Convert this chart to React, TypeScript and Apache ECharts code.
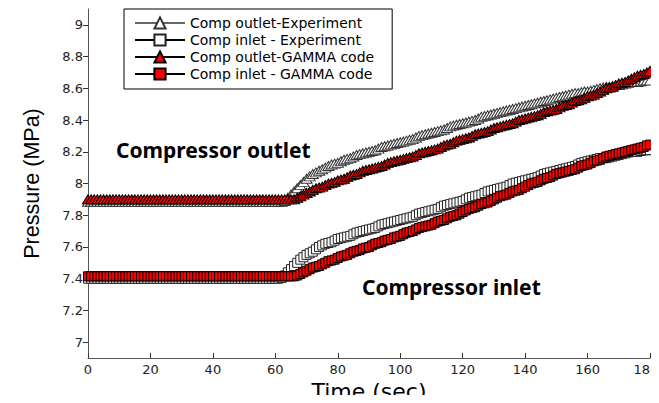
import React, { useEffect, useRef } from "react";
import * as echarts from "echarts";

// Time stamps (s), one sample per second
const timeSec = [
  0, 1, 2, 3, 4, 5, 6, 7, 8, 9, 10, 11, 12, 13, 14, 15, 16, 17, 18, 19,
  20, 21, 22, 23, 24, 25, 26, 27, 28, 29, 30, 31, 32, 33, 34, 35, 36, 37, 38, 39,
  40, 41, 42, 43, 44, 45, 46, 47, 48, 49, 50, 51, 52, 53, 54, 55, 56, 57, 58, 59,
  60, 61, 62, 63, 64, 65, 66, 67, 68, 69, 70, 71, 72, 73, 74, 75, 76, 77, 78, 79,
  80, 81, 82, 83, 84, 85, 86, 87, 88, 89, 90, 91, 92, 93, 94, 95, 96, 97, 98, 99,
  100, 101, 102, 103, 104, 105, 106, 107, 108, 109, 110, 111, 112, 113, 114, 115, 116, 117, 118, 119,
  120, 121, 122, 123, 124, 125, 126, 127, 128, 129, 130, 131, 132, 133, 134, 135, 136, 137, 138, 139,
  140, 141, 142, 143, 144, 145, 146, 147, 148, 149, 150, 151, 152, 153, 154, 155, 156, 157, 158, 159,
  160, 161, 162, 163, 164, 165, 166, 167, 168, 169, 170, 171, 172, 173, 174, 175, 176, 177, 178, 179,
  180,
];

// Compressor outlet pressure, experiment (MPa)
const outletExp = [
  7.885, 7.885, 7.885, 7.885, 7.885, 7.885, 7.885, 7.885, 7.885, 7.885,
  7.885, 7.885, 7.885, 7.885, 7.885, 7.885, 7.885, 7.885, 7.885, 7.885,
  7.885, 7.885, 7.885, 7.885, 7.885, 7.885, 7.885, 7.885, 7.885, 7.885,
  7.885, 7.885, 7.885, 7.885, 7.885, 7.885, 7.885, 7.885, 7.885, 7.885,
  7.885, 7.885, 7.885, 7.885, 7.885, 7.885, 7.885, 7.885, 7.885, 7.885,
  7.885, 7.885, 7.885, 7.885, 7.885, 7.885, 7.885, 7.885, 7.885, 7.885,
  7.885, 7.885, 7.885, 7.89, 7.91, 7.93, 7.95, 7.97, 7.99, 8.01,
  8.03, 8.045, 8.06, 8.07, 8.08, 8.09, 8.10, 8.11, 8.12, 8.125,
  8.13, 8.14, 8.15, 8.155, 8.16, 8.17, 8.18, 8.185, 8.19, 8.195,
  8.20, 8.205, 8.21, 8.22, 8.23, 8.235, 8.24, 8.245, 8.25, 8.255,
  8.26, 8.265, 8.27, 8.275, 8.28, 8.29, 8.30, 8.305, 8.31, 8.315,
  8.32, 8.325, 8.33, 8.335, 8.34, 8.35, 8.36, 8.365, 8.37, 8.375,
  8.38, 8.385, 8.39, 8.395, 8.40, 8.41, 8.42, 8.425, 8.43, 8.435,
  8.44, 8.445, 8.45, 8.455, 8.46, 8.465, 8.47, 8.475, 8.48, 8.485,
  8.49, 8.495, 8.50, 8.505, 8.51, 8.515, 8.52, 8.525, 8.53, 8.535,
  8.54, 8.545, 8.55, 8.555, 8.56, 8.565, 8.57, 8.57, 8.575, 8.58,
  8.58, 8.585, 8.59, 8.595, 8.60, 8.605, 8.61, 8.61, 8.615, 8.62,
  8.62, 8.625, 8.63, 8.635, 8.64, 8.64, 8.64, 8.645, 8.65, 8.65,
  8.65,
];

// Compressor inlet pressure, experiment (MPa)
const inletExp = [
  7.40, 7.40, 7.40, 7.40, 7.40, 7.40, 7.40, 7.40, 7.40, 7.40,
  7.40, 7.40, 7.40, 7.40, 7.40, 7.40, 7.40, 7.40, 7.40, 7.40,
  7.40, 7.40, 7.40, 7.40, 7.40, 7.40, 7.40, 7.40, 7.40, 7.40,
  7.40, 7.40, 7.40, 7.40, 7.40, 7.40, 7.40, 7.40, 7.40, 7.40,
  7.40, 7.40, 7.40, 7.40, 7.40, 7.40, 7.40, 7.40, 7.40, 7.40,
  7.40, 7.40, 7.40, 7.40, 7.40, 7.40, 7.40, 7.40, 7.40, 7.40,
  7.40, 7.40, 7.405, 7.42, 7.44, 7.46, 7.48, 7.50, 7.52, 7.535,
  7.55, 7.56, 7.57, 7.585, 7.60, 7.61, 7.62, 7.625, 7.63, 7.64,
  7.65, 7.655, 7.66, 7.665, 7.67, 7.68, 7.69, 7.695, 7.70, 7.705,
  7.71, 7.715, 7.72, 7.73, 7.74, 7.745, 7.75, 7.755, 7.76, 7.765,
  7.77, 7.775, 7.78, 7.785, 7.79, 7.80, 7.81, 7.815, 7.82, 7.825,
  7.83, 7.835, 7.84, 7.85, 7.86, 7.865, 7.87, 7.875, 7.88, 7.885,
  7.89, 7.90, 7.91, 7.915, 7.92, 7.925, 7.93, 7.94, 7.95, 7.955,
  7.96, 7.965, 7.97, 7.975, 7.98, 7.99, 8.00, 8.005, 8.01, 8.015,
  8.02, 8.025, 8.03, 8.035, 8.04, 8.05, 8.06, 8.065, 8.07, 8.075,
  8.08, 8.085, 8.09, 8.095, 8.10, 8.105, 8.11, 8.12, 8.13, 8.135,
  8.14, 8.145, 8.15, 8.155, 8.16, 8.16, 8.16, 8.165, 8.17, 8.175,
  8.18, 8.185, 8.19, 8.195, 8.20, 8.20, 8.20, 8.205, 8.21, 8.21,
  8.21,
];

// Compressor outlet pressure, GAMMA code (MPa)
const outletGamma = [
  7.90, 7.90, 7.90, 7.90, 7.90, 7.90, 7.90, 7.90, 7.90, 7.90,
  7.90, 7.90, 7.90, 7.90, 7.90, 7.90, 7.90, 7.90, 7.90, 7.90,
  7.90, 7.90, 7.90, 7.90, 7.90, 7.90, 7.90, 7.90, 7.90, 7.90,
  7.90, 7.90, 7.90, 7.90, 7.90, 7.90, 7.90, 7.90, 7.90, 7.90,
  7.90, 7.90, 7.90, 7.90, 7.90, 7.90, 7.90, 7.90, 7.90, 7.90,
  7.90, 7.90, 7.90, 7.90, 7.90, 7.90, 7.90, 7.90, 7.90, 7.90,
  7.90, 7.90, 7.90, 7.90, 7.90, 7.90, 7.90, 7.91, 7.92, 7.93,
  7.94, 7.95, 7.96, 7.97, 7.975, 7.98, 7.99, 8.00, 8.005, 8.01,
  8.02, 8.025, 8.03, 8.04, 8.05, 8.055, 8.06, 8.07, 8.08, 8.085,
  8.09, 8.095, 8.10, 8.105, 8.11, 8.12, 8.13, 8.135, 8.14, 8.145,
  8.15, 8.155, 8.16, 8.165, 8.17, 8.18, 8.19, 8.195, 8.20, 8.205,
  8.21, 8.215, 8.22, 8.23, 8.24, 8.245, 8.25, 8.26, 8.27, 8.275,
  8.28, 8.285, 8.29, 8.30, 8.31, 8.315, 8.32, 8.325, 8.33, 8.34,
  8.35, 8.355, 8.36, 8.365, 8.37, 8.375, 8.38, 8.39, 8.40, 8.405,
  8.41, 8.415, 8.42, 8.425, 8.43, 8.44, 8.45, 8.455, 8.46, 8.465,
  8.47, 8.48, 8.49, 8.495, 8.50, 8.51, 8.52, 8.525, 8.53, 8.54,
  8.55, 8.555, 8.56, 8.57, 8.58, 8.59, 8.60, 8.605, 8.61, 8.62,
  8.63, 8.635, 8.64, 8.65, 8.66, 8.67, 8.68, 8.685, 8.69, 8.70,
  8.71,
];

// Compressor inlet pressure, GAMMA code (MPa)
const inletGamma = [
  7.415, 7.415, 7.415, 7.415, 7.415, 7.415, 7.415, 7.415, 7.415, 7.415,
  7.415, 7.415, 7.415, 7.415, 7.415, 7.415, 7.415, 7.415, 7.415, 7.415,
  7.415, 7.415, 7.415, 7.415, 7.415, 7.415, 7.415, 7.415, 7.415, 7.415,
  7.415, 7.415, 7.415, 7.415, 7.415, 7.415, 7.415, 7.415, 7.415, 7.415,
  7.415, 7.415, 7.415, 7.415, 7.415, 7.415, 7.415, 7.415, 7.415, 7.415,
  7.415, 7.415, 7.415, 7.415, 7.415, 7.415, 7.415, 7.415, 7.415, 7.415,
  7.415, 7.415, 7.415, 7.415, 7.415, 7.415, 7.415, 7.42, 7.43, 7.44,
  7.45, 7.46, 7.47, 7.475, 7.48, 7.49, 7.50, 7.51, 7.515, 7.52,
  7.53, 7.54, 7.545, 7.55, 7.56, 7.57, 7.575, 7.58, 7.59, 7.595,
  7.60, 7.61, 7.62, 7.625, 7.63, 7.64, 7.645, 7.65, 7.66, 7.665,
  7.67, 7.68, 7.69, 7.695, 7.70, 7.71, 7.72, 7.725, 7.73, 7.735,
  7.74, 7.75, 7.76, 7.765, 7.77, 7.78, 7.79, 7.795, 7.80, 7.81,
  7.82, 7.83, 7.84, 7.845, 7.85, 7.86, 7.87, 7.875, 7.88, 7.89,
  7.90, 7.91, 7.92, 7.925, 7.93, 7.94, 7.95, 7.955, 7.96, 7.97,
  7.98, 7.99, 8.00, 8.005, 8.01, 8.02, 8.03, 8.035, 8.04, 8.05,
  8.06, 8.065, 8.07, 8.075, 8.08, 8.085, 8.09, 8.10, 8.11, 8.115,
  8.12, 8.13, 8.14, 8.145, 8.15, 8.16, 8.17, 8.175, 8.18, 8.185,
  8.19, 8.195, 8.20, 8.205, 8.21, 8.215, 8.22, 8.225, 8.23, 8.24,
  8.245,
];

const yTickValues = [7, 7.2, 7.4, 7.6, 7.8, 8, 8.2, 8.4, 8.6, 8.8, 9];

const seriesNames = [
  "Comp outlet-Experiment",
  "Comp inlet - Experiment",
  "Comp outlet-GAMMA code",
  "Comp inlet - GAMMA code",
];

const pairs = (vals: number[]) => timeSec.map((t, i) => [t, vals[i]]);

const SANS = "DejaVu Sans, sans-serif";
const ARIAL = "Liberation Sans, Arial, sans-serif";

export default function App() {
  const ref = useRef<HTMLDivElement>(null);

  useEffect(() => {
    if (!ref.current) return;
    const chart = echarts.init(ref.current, undefined, { renderer: "svg" });

    const mkSeries = (
      name: string,
      vals: number[],
      symbol: string,
      fill: string,
      border: string,
      lineColor: string,
      size: number | number[],
    ) => ({
      name,
      type: "line",
      data: pairs(vals),
      symbol,
      symbolSize: size,
      showAllSymbol: true,
      lineStyle: { color: lineColor, width: 1 },
      itemStyle: { color: fill, borderColor: border, borderWidth: 1 },
      emphasis: { disabled: true },
    });

    const tickFont = { fontFamily: SANS, fontSize: 13, color: "#222" };

    chart.setOption({
      animation: false,
      backgroundColor: "#ffffff",
      grid: {
        left: 88,
        right: 9,
        top: 9,
        bottom: 45,
        containLabel: false,
        outerBoundsMode: "none",
      },
      legend: {
        orient: "vertical",
        left: 124,
        top: 9,
        padding: [7, 18, 8, 10],
        itemGap: 3,
        itemWidth: 50,
        itemHeight: 14,
        borderColor: "#000",
        borderWidth: 1,
        textStyle: {
          fontFamily: SANS,
          fontSize: 14,
          lineHeight: 14,
          color: "#000",
        },
        data: seriesNames,
      },
      xAxis: {
        type: "value",
        min: 0,
        max: 180,
        interval: 20,
        name: "Time (sec)",
        nameLocation: "middle",
        nameGap: 17,
        nameTextStyle: {
          fontFamily: SANS,
          fontSize: 22,
          lineHeight: 22,
          color: "#000",
          verticalAlign: "top",
        },
        axisLine: { lineStyle: { color: "#555", width: 1 } },
        axisTick: { inside: true, length: 5, lineStyle: { color: "#333" } },
        axisLabel: {
          ...tickFont,
          margin: 5,
          // the last label sits on the right edge; nudge it inwards a little
          formatter: (v: number) => (v === 180 ? `{edge|${v}}` : String(v)),
          rich: { edge: { ...tickFont, padding: [0, 8, 0, 0] } },
        },
        splitLine: { show: false },
      },
      yAxis: {
        type: "value",
        min: 6.9,
        max: 9.1,
        name: "Pressure (MPa)",
        nameLocation: "middle",
        nameGap: 45,
        nameTextStyle: { fontFamily: ARIAL, fontSize: 21.5, color: "#000" },
        axisLine: { show: true, lineStyle: { color: "#555", width: 1 } },
        axisTick: {
          show: true,
          length: 5,
          customValues: yTickValues,
          lineStyle: { color: "#333" },
        },
        axisLabel: {
          ...tickFont,
          margin: 5,
          customValues: yTickValues,
          formatter: (v: number) => String(Math.round(v * 10) / 10),
        },
        splitLine: { show: false },
      },
      graphic: [
        {
          type: "text",
          left: 116,
          top: 139,
          z: 100,
          style: {
            text: "Compressor outlet",
            fontFamily: "Noto Sans, sans-serif",
            fontWeight: "bold",
            fontSize: 21,
            fill: "#000",
          },
        },
        {
          type: "text",
          left: 362,
          top: 276,
          z: 100,
          style: {
            text: "Compressor inlet",
            fontFamily: "Noto Sans, sans-serif",
            fontWeight: "bold",
            fontSize: 21,
            fill: "#000",
          },
        },
      ],
      series: [
        mkSeries(seriesNames[0], outletExp, "triangle", "#ffffff", "#333", "#666", [11, 9]),
        mkSeries(seriesNames[1], inletExp, "rect", "#ffffff", "#222", "#000", 9),
        mkSeries(seriesNames[2], outletGamma, "triangle", "#ff0000", "#000", "#000", [11, 9]),
        mkSeries(seriesNames[3], inletGamma, "rect", "#ff0000", "#000", "#000", 9),
      ],
    });

    return () => chart.dispose();
  }, []);

  return <div ref={ref} style={{ width: 659, height: 403, margin: -8 }} />;
}
